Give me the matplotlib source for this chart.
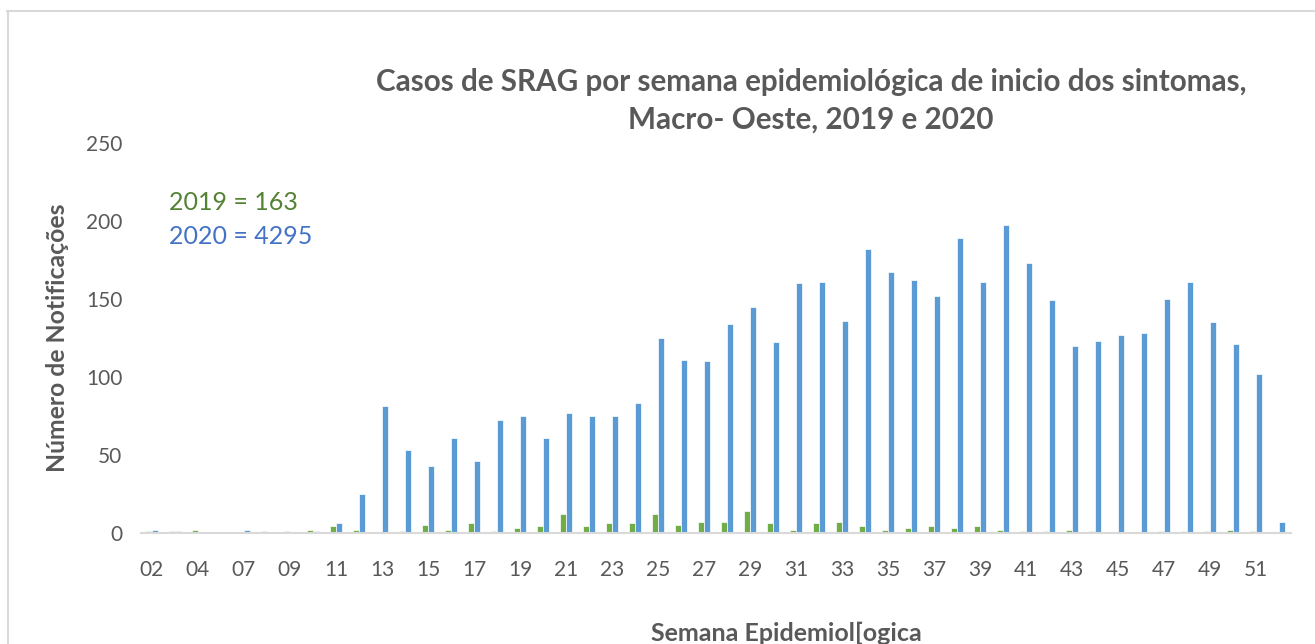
import matplotlib
matplotlib.use("Agg")
import matplotlib.pyplot as plt
import numpy as np
from matplotlib.lines import Line2D

weeks = ["02", "03", "04", "06", "07", "08", "09", "10", "11", "12",
         "13", "14", "15", "16", "17", "18", "19", "20", "21", "22",
         "23", "24", "25", "26", "27", "28", "29", "30", "31", "32",
         "33", "34", "35", "36", "37", "38", "39", "40", "41", "42",
         "43", "44", "45", "46", "47", "48", "49", "50", "51", "52"]

cases_2019 = [1, 1, 2, 0, 0, 1, 1, 2, 4, 2,
              0, 1, 5, 2, 6, 1, 3, 4, 12, 4,
              6, 6, 12, 5, 7, 7, 14, 6, 2, 6,
              7, 4, 2, 3, 4, 3, 4, 2, 1, 1,
              2, 1, 0, 0, 1, 1, 1, 2, 1, 0]

cases_2020 = [2, 1, 0, 0, 2, 0, 0, 1, 6, 25,
              81, 53, 43, 61, 46, 72, 75, 61, 77, 75,
              75, 83, 125, 111, 110, 134, 145, 122, 160, 161,
              136, 182, 167, 162, 152, 189, 161, 197, 173, 149,
              120, 123, 127, 128, 150, 161, 135, 121, 102, 7]

title = "Casos de SRAG por semana epidemiológica de inicio dos sintomas,\nMacro- Oeste, 2019 e 2020"
ylabel = "Número de Notificações"
xlabel = "Semana Epidemiol[ogica"
note_2019 = "2019 = 163"
note_2020 = "2020 = 4295"
yticks = [0, 50, 100, 150, 200, 250]

W, H = 1315, 644
FONT = "Lato"
GRAY = "#595959"
GREEN = "#70AD47"
BLUE = "#5B9BD5"

fig = plt.figure(figsize=(W / 100, H / 100), dpi=100)
fig.patch.set_facecolor("white")

def fx(px):
    return px / W

def fy(py):
    return 1 - py / H

ax = fig.add_axes([fx(140.5), fy(532.7), fx(1290.5) - fx(140.5), fy(142.7) - fy(532.7)])
x = np.arange(len(weeks))
bw = 0.23
ax.bar(x - 0.13, cases_2019, width=bw, color=GREEN, edgecolor="white", linewidth=0.5, zorder=2)
ax.bar(x + 0.13, cases_2020, width=bw, color=BLUE, edgecolor="white", linewidth=0.5, zorder=2)

ax.set_xlim(-0.5, len(weeks) - 0.5)
ax.set_ylim(0, 250)
ax.set_yticks(yticks)
ax.set_yticklabels([str(v) for v in yticks], fontsize=15, color=GRAY, family=FONT)
ax.set_xticks(x[::2])
ax.set_xticklabels(weeks[::2], fontsize=15, color=GRAY, family=FONT)
ax.tick_params(axis="both", length=0)
ax.tick_params(axis="y", pad=13)
ax.tick_params(axis="x", pad=20)
for s in ["top", "right", "left"]:
    ax.spines[s].set_visible(False)
ax.spines["bottom"].set_color("#D9D9D9")
ax.spines["bottom"].set_linewidth(1.5)
ax.spines["bottom"].set_zorder(3)

fig.text(fx(811), fy(101), title, ha="center", va="center", multialignment="center",
         fontsize=21.3, fontweight="bold", color=GRAY, family=FONT, linespacing=1.42)
fig.text(fx(58), fy(338), ylabel, ha="center", va="center", rotation=90,
         fontsize=17.8, fontweight="bold", color=GRAY, family=FONT)
fig.text(fx(786), fy(633), xlabel, ha="center", va="center",
         fontsize=18, fontweight="bold", color=GRAY, family=FONT)
fig.text(fx(169), fy(202), note_2019, ha="left", va="center",
         fontsize=18, color="#548235", family=FONT)
fig.text(fx(169), fy(236), note_2020, ha="left", va="center",
         fontsize=18, color="#4472C4", family=FONT)

# chart-area border (top and left visible)
fig.add_artist(Line2D([fx(7), fx(1315)], [fy(11), fy(11)], color="#D9D9D9", lw=1.5))
fig.add_artist(Line2D([fx(8), fx(8)], [fy(11), fy(644)], color="#D9D9D9", lw=1.5))

fig.savefig("out.png", dpi=100, facecolor="white")
